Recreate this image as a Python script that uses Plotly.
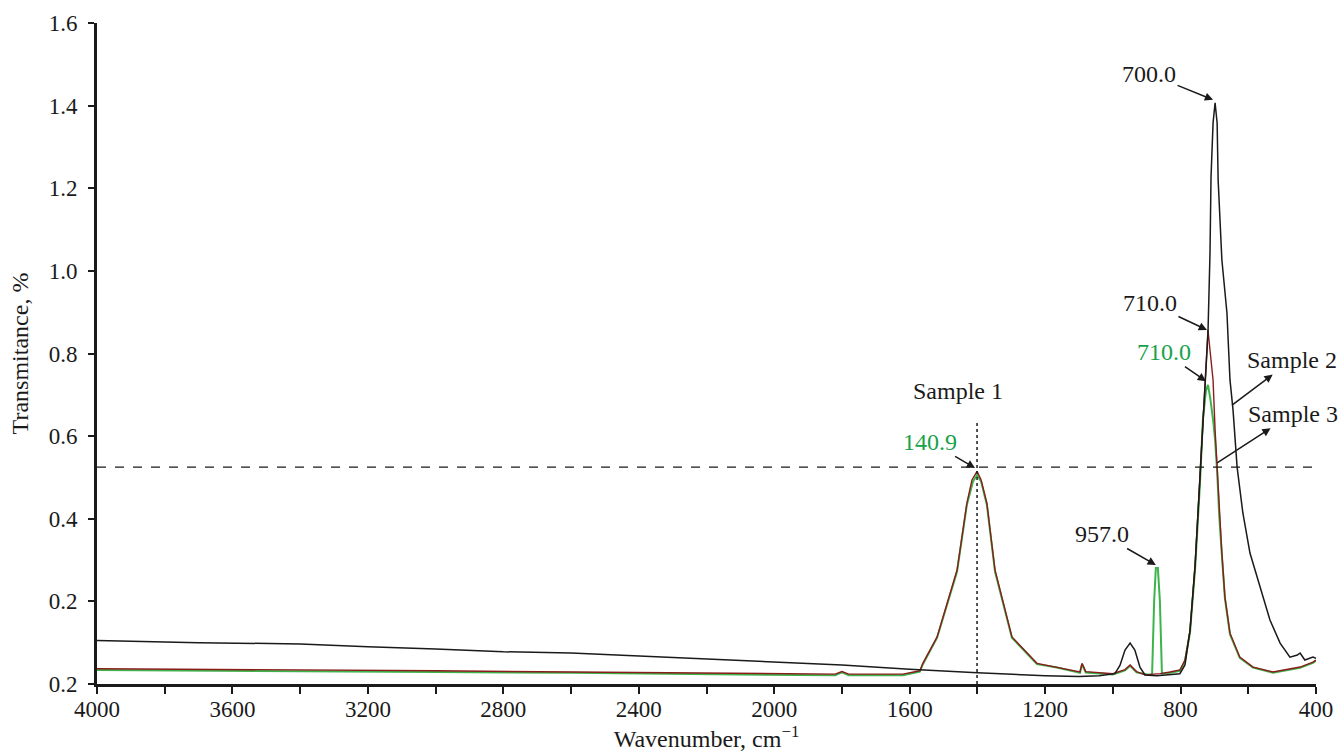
import plotly.graph_objects as go

# ---------------- data ----------------
black_wn = [4000, 3700, 3400, 3200, 3000, 2800, 2600, 2400, 2200, 2000, 1800, 1600, 1400, 1200,
            1100, 1040, 994, 979, 964, 949, 935, 920, 905, 870, 840, 802, 787, 772, 757, 743,
            734, 725, 719, 713, 710, 704, 698, 692, 689, 678, 663, 654, 645, 633, 616, 595,
            566, 536, 506, 477, 455, 447, 433, 420, 409, 400]
black_t = [0.105, 0.100, 0.097, 0.090, 0.085, 0.078, 0.075, 0.068, 0.061, 0.054, 0.046, 0.036, 0.027, 0.020,
           0.018, 0.020, 0.025, 0.045, 0.082, 0.099, 0.082, 0.041, 0.022, 0.020, 0.022, 0.025, 0.046, 0.130, 0.288, 0.494,
           0.656, 0.780, 0.850, 1.044, 1.228, 1.358, 1.407, 1.358, 1.220, 1.027, 0.898, 0.736, 0.663, 0.525, 0.414, 0.317,
           0.235, 0.155, 0.099, 0.065, 0.070, 0.075, 0.058, 0.062, 0.065, 0.062]

red_wn = [4000, 3700, 3400, 3000, 2600, 2200, 1820, 1800, 1780, 1620, 1570, 1561, 1519, 1460, 1431, 1416,
          1401, 1389, 1372, 1348, 1298, 1224, 1165, 1097, 1091, 1080, 1000, 964, 949, 930, 905, 860,
          831, 802, 787, 772, 757, 743, 734, 725, 719, 712, 704, 698, 692, 686, 678, 669, 654, 625,
          586, 527, 447, 409, 400]
red_t = [0.037, 0.036, 0.035, 0.032, 0.029, 0.026, 0.024, 0.030, 0.024, 0.024, 0.032, 0.050, 0.114, 0.276, 0.438, 0.494,
         0.515, 0.494, 0.438, 0.276, 0.114, 0.050, 0.041, 0.029, 0.050, 0.030, 0.025, 0.035, 0.046, 0.030, 0.022, 0.025,
         0.029, 0.034, 0.058, 0.130, 0.288, 0.494, 0.656, 0.790, 0.857, 0.800, 0.736, 0.615, 0.525, 0.414, 0.317, 0.211, 0.123, 0.065,
         0.041, 0.029, 0.041, 0.053, 0.058]

green_wn = [4000, 3700, 3400, 3000, 2600, 2200, 1820, 1800, 1780, 1620, 1570, 1561, 1519, 1460, 1431, 1413,
            1401, 1389, 1372, 1348, 1298, 1224, 1165, 1097, 1091, 1080, 1000, 964, 949, 930, 890, 884,
            878, 873, 867, 861, 855, 831, 802, 787, 772, 757, 743, 734, 725, 719, 712, 704, 698, 692, 686,
            678, 669, 654, 625, 586, 527, 447, 409, 400]
green_t = [0.034, 0.033, 0.031, 0.029, 0.027, 0.024, 0.021, 0.028, 0.021, 0.021, 0.030, 0.048, 0.112, 0.272, 0.434, 0.490,
           0.506, 0.490, 0.434, 0.272, 0.112, 0.048, 0.040, 0.027, 0.048, 0.028, 0.023, 0.033, 0.044, 0.028, 0.022, 0.025,
           0.200, 0.281, 0.281, 0.200, 0.025, 0.027, 0.032, 0.055, 0.125, 0.280, 0.480, 0.640, 0.710, 0.724, 0.690, 0.640, 0.590, 0.515, 0.410,
           0.312, 0.207, 0.120, 0.063, 0.040, 0.027, 0.039, 0.051, 0.056]

x_ticks = [4000, 3600, 3200, 2800, 2400, 2000, 1600, 1200, 800, 400]
y_tickvals = [0, 0.2, 0.4, 0.6, 0.8, 1.0, 1.2, 1.4, 1.6]
y_ticktext = ["0.2", "0.2", "0.4", "0.6", "0.8", "1.0", "1.2", "1.4", "1.6"]

ref_level = 0.525      # horizontal dashed reference
ref_wn = 1401          # vertical dotted reference
ref_top = 0.634

BLACK = "#1a1a1a"
RED = "#8b1c1c"
GREEN = "#3cb44b"
GREEN_TXT = "#17a24a"
FONT = "Liberation Serif"

fig = go.Figure()
fig.add_trace(go.Scatter(x=green_wn, y=green_t, mode="lines", line=dict(color=GREEN, width=2), name="Sample 1"))
fig.add_trace(go.Scatter(x=red_wn, y=red_t, mode="lines", line=dict(color=RED, width=1.4), name="Sample 3"))
fig.add_trace(go.Scatter(x=black_wn, y=black_t, mode="lines", line=dict(color=BLACK, width=1.5), name="Sample 2"))

fig.add_shape(type="line", x0=4000, x1=400, y0=ref_level, y1=ref_level, xref="x", yref="y",
              line=dict(color=BLACK, width=1.3, dash="dash"))
fig.add_shape(type="line", x0=ref_wn, x1=ref_wn, y0=0, y1=ref_top, xref="x", yref="y",
              line=dict(color=BLACK, width=1.5, dash="dot"))

fs = 24
ann = []
def lab(text, x, y, ax, ay, color=BLACK):
    ann.append(dict(text=text, x=x, y=y, ax=ax, ay=ay, xref="x", yref="y", showarrow=True,
                    arrowhead=2, arrowsize=1.1, arrowwidth=1.5, arrowcolor=BLACK,
                    font=dict(family=FONT, size=fs, color=color)))

lab("700.0", 704, 1.414, -64, -26)
lab("710.0", 722, 0.857, -57, -27)
lab("710.0", 725, 0.733, -42, -29, GREEN_TXT)
lab("140.9", 1407, 0.523, -45, -26, GREEN_TXT)
lab("957.0", 873, 0.288, -54, -31)

ann.append(dict(text="Sample 1", x=1457, y=0.709, xref="x", yref="y", showarrow=False,
                font=dict(family=FONT, size=fs, color=BLACK)))

# Sample 2 / Sample 3 labels: arrow from the curve, head next to the text
for text, tx, ty, cx, cy in [("Sample 2", 471, 0.784, 648, 0.675), ("Sample 3", 468, 0.654, 692, 0.535)]:
    ann.append(dict(text=text, x=cx, y=cy, ax=tx, ay=ty, xref="x", yref="y", axref="x", ayref="y",
                    showarrow=True, arrowside="start", arrowhead=2, startarrowhead=2, startarrowsize=1.1,
                    arrowwidth=1.5, arrowcolor=BLACK,
                    font=dict(family=FONT, size=fs, color=BLACK)))

fig.update_layout(
    width=1341, height=755,
    margin=dict(l=97, r=25, t=23, b=71),
    paper_bgcolor="white", plot_bgcolor="white",
    showlegend=False,
    annotations=ann,
    font=dict(family=FONT, size=23, color=BLACK),
)
fig.update_xaxes(
    range=[4000, 400], tickvals=x_ticks, ticks="outside", ticklen=7, tickwidth=2, tickcolor=BLACK,
    showline=True, linewidth=2.5, linecolor=BLACK, showgrid=False, zeroline=False, automargin=False,
    minor=dict(dtick=200, tick0=400, ticks="outside", ticklen=7, tickwidth=2, tickcolor=BLACK, showgrid=False),
    tickfont=dict(family=FONT, size=23, color=BLACK), ticklabelstandoff=-4,
    title=dict(text="Wavenumber, cm<sup>−1</sup>", font=dict(family=FONT, size=24, color=BLACK), standoff=6),
)
fig.update_yaxes(
    range=[0, 1.6], tickvals=y_tickvals, ticktext=y_ticktext, ticks="outside", ticklen=6, tickwidth=2,
    tickcolor=BLACK, showline=True, linewidth=3, linecolor=BLACK, showgrid=False, zeroline=False, automargin=False,
    tickfont=dict(family=FONT, size=23, color=BLACK), ticklabelstandoff=6,
    title=dict(text="Transmitance, %", font=dict(family=FONT, size=24, color=BLACK), standoff=14),
)

fig.write_html("out.html", config={"displayModeBar": False},
               post_script="document.body.style.margin='0';document.body.style.overflow='hidden';")
